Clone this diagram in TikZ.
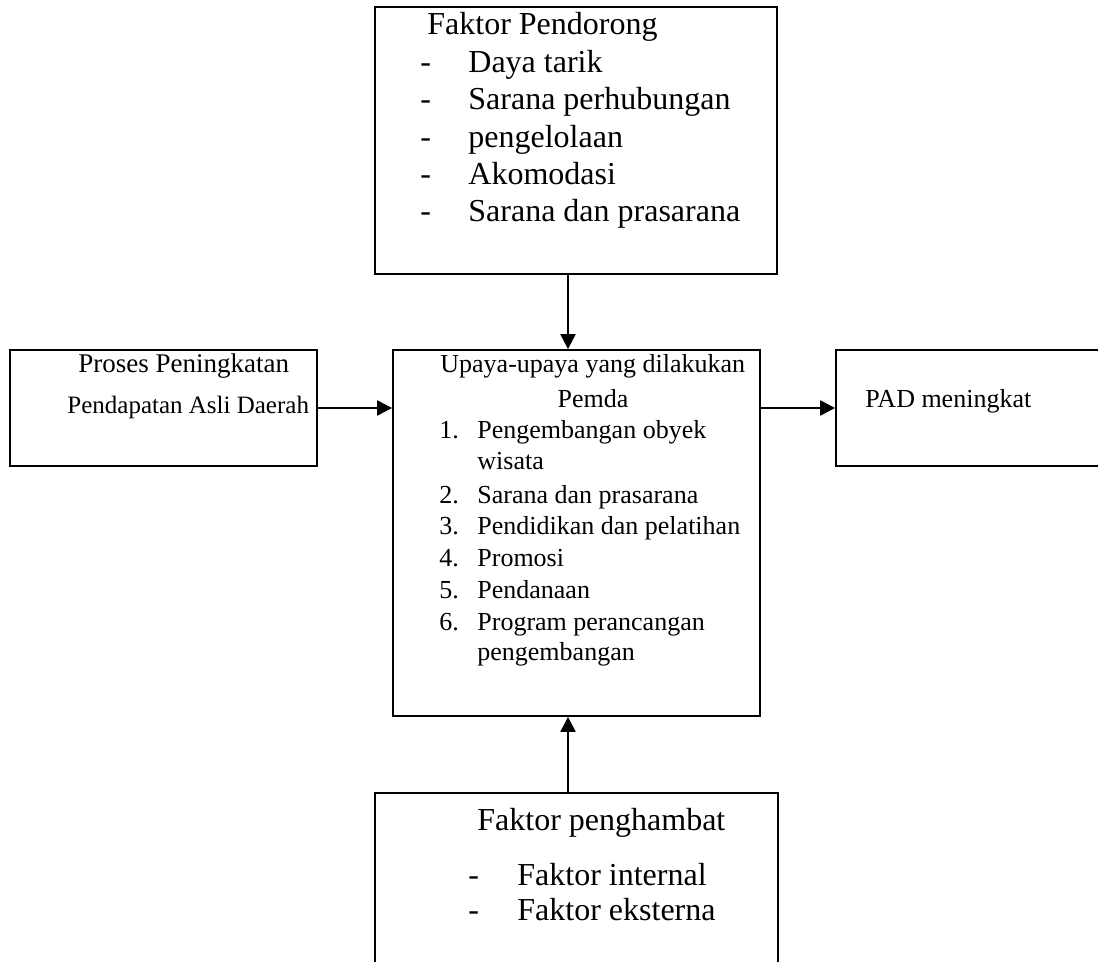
\documentclass[tikz,border=0pt]{standalone}
\usepackage{fontspec}
\setmainfont{Liberation Serif}
\usetikzlibrary{arrows.meta}
\newcommand\hurufbesar{\fontsize{16}{19}\selectfont}
\newcommand\hurufsedang{\fontsize{13}{15}\selectfont}
\tikzset{
  kotak/.style={draw, line width=0.9pt, inner sep=0pt},
  teks/.style={anchor=base west, inner sep=0pt},
  panah/.style={line width=1.1pt, -{Triangle[length=7.5pt,width=7.5pt]}},
}
\begin{document}
\begin{tikzpicture}[x=0.5pt,y=-0.5pt]
        \clip (0,0) rectangle (1098,962);
        % kotak-kotak
        \node[kotak, minimum width=201pt, minimum height=133.5pt] (pendorong) at (576,140.5) {};
        \node[kotak, minimum width=183.5pt, minimum height=183pt] (upaya) at (576.5,533) {};
        \node[kotak, minimum width=153.5pt, minimum height=58pt] (proses) at (163.5,408) {};
        \node[kotak, minimum width=137pt, minimum height=58pt] (pad) at (973,408) {};
        \node[kotak, minimum width=201.5pt, minimum height=103.5pt] (penghambat) at (576.5,896.5) {};
        % faktor pendorong
        \node[teks, font=\hurufbesar] (jdlpendorong) at (427,35) {Faktor Pendorong};
        \foreach \t [count=\i] in {Daya tarik, Sarana perhubungan, pengelolaan, Akomodasi, Sarana dan prasarana}
          {\node[teks, font=\hurufbesar] (strip\i) at (420,35+37.4*\i) {-};
           \node[teks, font=\hurufbesar] (pendorong\i) at (468,35+37.4*\i) {\t};}
        % upaya pemda
        \node[teks, font=\hurufsedang] (jdlupaya) at (440,373) {Upaya-upaya yang dilakukan};
        \node[anchor=base, inner sep=0pt, font=\hurufsedang] (pemda) at (593,408) {Pemda};
        \foreach \n/\y/\t [count=\i] in {1./439/Pengembangan obyek, /470/wisata, 2./503/Sarana dan prasarana,
            3./535/Pendidikan dan pelatihan, 4./567/Promosi, 5./598/Pendanaan,
            6./630/Program perancangan, /660/pengembangan}
          {\node[teks, font=\hurufsedang] (no\i) at (439,\y) {\n};
           \node[teks, font=\hurufsedang] (upaya\i) at (477,\y) {\t};}
        % kiri dan kanan
        \node[teks, font=\fontsize{13.5}{15}\selectfont] (proses1) at (78,373) {Proses Peningkatan};
        \node[teks, font=\fontsize{12.5}{15}\selectfont] (proses2) at (67,414) {Pendapatan Asli Daerah};
        \node[teks, font=\hurufsedang] (padnaik) at (865,408) {PAD meningkat};
        % faktor penghambat
        \node[teks, font=\hurufbesar] (jdlpenghambat) at (477,830) {Faktor penghambat};
        \foreach \t/\y [count=\i] in {Faktor internal/885, Faktor eksterna/920}
          {\node[teks, font=\hurufbesar] (stripb\i) at (468,\y) {-};
           \node[teks, font=\hurufbesar] (penghambat\i) at (517,\y) {\t};}
        % panah
        \draw[panah] ([xshift=-4pt]pendorong.south) -- ([xshift=-4.25pt]upaya.north);
        \draw[panah] ([xshift=-4.25pt]penghambat.north) -- ([xshift=-4.25pt]upaya.south);
        \draw[panah] (proses.east) -- (proses.east -| upaya.west);
        \draw[panah] (upaya.east |- pad.west) -- (pad.west);
      \end{tikzpicture}
\end{document}
